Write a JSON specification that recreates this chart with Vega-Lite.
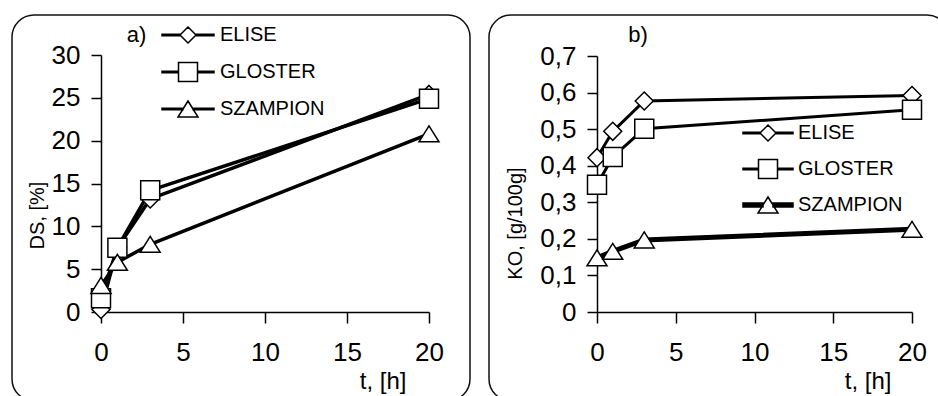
{
  "$schema": "https://vega.github.io/schema/vega-lite/v6.json",
  "padding": {"left": 11, "top": 14, "right": 0, "bottom": 0},
  "background": "white",
  "spacing": 17,
  "datasets": {
    "a": [
      {"t": 0, "series": "ELISE", "v": 0.3},
      {"t": 1, "series": "ELISE", "v": 7.5},
      {"t": 3, "series": "ELISE", "v": 13.2},
      {"t": 20, "series": "ELISE", "v": 25.4},
      {"t": 0, "series": "GLOSTER", "v": 1.6},
      {"t": 1, "series": "GLOSTER", "v": 7.5},
      {"t": 3, "series": "GLOSTER", "v": 14.2},
      {"t": 20, "series": "GLOSTER", "v": 24.9},
      {"t": 0, "series": "SZAMPION", "v": 3.1},
      {"t": 1, "series": "SZAMPION", "v": 5.8},
      {"t": 3, "series": "SZAMPION", "v": 7.9},
      {"t": 20, "series": "SZAMPION", "v": 20.8}
    ],
    "b": [
      {"t": 0, "series": "ELISE", "v": 0.422},
      {"t": 1, "series": "ELISE", "v": 0.494},
      {"t": 3, "series": "ELISE", "v": 0.577},
      {"t": 20, "series": "ELISE", "v": 0.592},
      {"t": 0, "series": "GLOSTER", "v": 0.348},
      {"t": 1, "series": "GLOSTER", "v": 0.424},
      {"t": 3, "series": "GLOSTER", "v": 0.501},
      {"t": 20, "series": "GLOSTER", "v": 0.553},
      {"t": 0, "series": "SZAMPION", "v": 0.148},
      {"t": 1, "series": "SZAMPION", "v": 0.166},
      {"t": 3, "series": "SZAMPION", "v": 0.197},
      {"t": 20, "series": "SZAMPION", "v": 0.226}
    ]
  },
  "hconcat": [
    {
      "width": 458,
      "height": 386,
      "data": {"name": "a"},
      "resolve": {"scale": {"shape": "independent"}, "legend": {"shape": "independent"}},
      "layer": [
        {"mark": {"type": "line", "color": "black", "strokeWidth": 3.5},
          "encoding": {
            "x": {"field": "t", "type": "quantitative", "scale": {"domain": [0, 20], "range": [89, 417]},
              "axis": {"values": [0, 5, 10, 15, 20], "offset": -89, "title": "t, [h]", "titleFontSize": 24, "titleX": 394, "titleY": 76, "titleAlign": "right", "titleBaseline": "alphabetic"}},
            "y": {"field": "v", "type": "quantitative", "scale": {"domain": [0, 30], "range": [297, 40]},
              "axis": {"values": [0, 5, 10, 15, 20, 25, 30], "offset": -89, "title": "DS, [%]", "titleFontSize": 20, "titleX": -64, "titleY": 200, "titleAngle": 270, "titleAlign": "center", "titleBaseline": "middle"}},
            "detail": {"field": "series"}}},
        {"mark": {"type": "point", "filled": true, "fill": "white", "stroke": "black", "strokeWidth": 1.5, "size": 400, "opacity": 1},
          "encoding": {
            "x": {"field": "t", "type": "quantitative"},
            "y": {"field": "v", "type": "quantitative"},
            "shape": {"field": "series", "type": "nominal", "legend": null,
              "scale": {"domain": ["ELISE", "GLOSTER", "SZAMPION"], "range": ["M0,-0.9L0.9,0L0,0.9L-0.9,0Z", "M-0.95,-0.95H0.95V0.95H-0.95Z", "M0,-0.8L1,0.8H-1Z"]}}
          }},
        {"transform": [{"filter": "false"}],
          "mark": {"type": "point", "filled": true, "fill": "white", "stroke": "black", "strokeWidth": 1.5, "size": 400, "opacity": 1},
          "encoding": {
            "shape": {"field": "series", "type": "nominal",
              "scale": {"domain": ["ELISE", "GLOSTER", "SZAMPION"], "range": [
                "M0,-0.8L0.8,0L0,0.8L-0.8,0Z M-2.6,-0.075H-0.8V0.075H-2.6Z M0.8,-0.075H2.6V0.075H0.8Z",
                "M-0.95,-0.95H0.95V0.95H-0.95Z M-2.6,-0.075H-0.95V0.075H-2.6Z M0.95,-0.075H2.6V0.075H0.95Z",
                "M0,-0.8L1,0.8H-1Z M-2.6,-0.075H-0.5V0.075H-2.6Z M0.5,-0.075H2.6V0.075H0.5Z"]},
              "legend": {"orient": "none", "legendX": 165, "legendY": 9, "title": null, "padding": 0, "symbolSize": 400, "symbolStrokeWidth": 1.5, "symbolOpacity": 1, "labelFontSize": 20, "labelFont": "Liberation Sans", "labelColor": "black", "labelOffset": 21, "rowPadding": 13,
                "encode": {"symbols": {"fill": {"value": "white"}, "stroke": {"value": "black"}, "strokeWidth": {"value": 1.5}}}}
            }
          }},
        {"data": {"values": [{"label": "a)"}]},
          "mark": {"type": "text", "fontSize": 22, "font": "Liberation Sans", "color": "black", "align": "center", "baseline": "middle"},
          "encoding": {
            "x": {"datum": 2.16, "type": "quantitative"},
            "y": {"datum": 32.3, "type": "quantitative"},
            "text": {"field": "label"}}}
      ]
    },
    {
      "width": 460,
      "height": 386,
      "data": {"name": "b"},
      "resolve": {"scale": {"shape": "independent"}, "legend": {"shape": "independent"}},
      "layer": [
        {"mark": {"type": "line", "color": "black"},
          "encoding": {
            "x": {"field": "t", "type": "quantitative", "scale": {"domain": [0, 20], "range": [108, 423]},
              "axis": {"values": [0, 5, 10, 15, 20], "offset": -89, "title": "t, [h]", "titleFontSize": 24, "titleX": 402, "titleY": 76, "titleAlign": "right", "titleBaseline": "alphabetic"}},
            "y": {"field": "v", "type": "quantitative", "scale": {"domain": [0, 0.7], "range": [297, 41]},
              "axis": {"values": [0, 0.1, 0.2, 0.3, 0.4, 0.5, 0.6, 0.7], "offset": -108, "title": "KO, [g/100g]", "titleFontSize": 20, "titleX": -82, "titleY": 208, "titleAngle": 270, "titleAlign": "center", "titleBaseline": "middle",
                "labelExpr": "datum.value == 0 ? '0' : replace(format(datum.value, '.1f'), '.', ',')"}},
            "detail": {"field": "series"},
            "strokeWidth": {"condition": {"test": "datum.series === 'SZAMPION'", "value": 5}, "value": 3}}},
        {"mark": {"type": "point", "filled": true, "fill": "white", "stroke": "black", "strokeWidth": 1.5, "size": 400, "opacity": 1},
          "encoding": {
            "x": {"field": "t", "type": "quantitative"},
            "y": {"field": "v", "type": "quantitative"},
            "shape": {"field": "series", "type": "nominal", "legend": null,
              "scale": {"domain": ["ELISE", "GLOSTER", "SZAMPION"], "range": ["M0,-0.9L0.9,0L0,0.9L-0.9,0Z", "M-0.95,-0.95H0.95V0.95H-0.95Z", "M0,-0.8L1,0.8H-1Z"]}}
          }},
        {"transform": [{"filter": "false"}],
          "mark": {"type": "point", "filled": true, "fill": "white", "stroke": "black", "strokeWidth": 1.5, "size": 400, "opacity": 1},
          "encoding": {
            "shape": {"field": "series", "type": "nominal",
              "scale": {"domain": ["ELISE", "GLOSTER", "SZAMPION"], "range": [
                "M0,-0.8L0.8,0L0,0.8L-0.8,0Z M-2.5,-0.075H-0.8V0.075H-2.5Z M0.8,-0.075H2.5V0.075H0.8Z",
                "M-0.95,-0.95H0.95V0.95H-0.95Z M-2.5,-0.075H-0.95V0.075H-2.5Z M0.95,-0.075H2.5V0.075H0.95Z",
                "M0,-0.8L1,0.8H-1Z M-2.5,-0.2H-0.5V-0.05H-2.5Z M-2.5,0.05H-0.5V0.2H-2.5Z M0.5,-0.2H2.5V-0.05H0.5Z M0.5,0.05H2.5V0.2H0.5Z"]},
              "legend": {"orient": "none", "legendX": 268, "legendY": 107, "title": null, "padding": 0, "symbolSize": 400, "symbolStrokeWidth": 1.5, "symbolOpacity": 1, "labelFontSize": 20, "labelFont": "Liberation Sans", "labelColor": "black", "labelOffset": 19, "rowPadding": 12,
                "encode": {"symbols": {"fill": {"value": "white"}, "stroke": {"value": "black"}, "strokeWidth": {"value": 1.5}}}}
            }
          }},
        {"data": {"values": [{"label": "b)"}]},
          "mark": {"type": "text", "fontSize": 22, "font": "Liberation Sans", "color": "black", "align": "center", "baseline": "middle"},
          "encoding": {
            "x": {"datum": 2.6, "type": "quantitative"},
            "y": {"datum": 0.757, "type": "quantitative"},
            "text": {"field": "label"}}}
      ]
    }
  ],
  "config": {
    "font": "Liberation Sans",
    "view": {"stroke": "#111", "strokeWidth": 1.5, "cornerRadius": 22},
    "axis": {
      "grid": false,
      "domainColor": "black", "domainWidth": 1.5,
      "tickColor": "black", "tickWidth": 1.5,
      "labelFont": "Liberation Sans", "labelFontSize": 26, "labelColor": "black",
      "titleFont": "Liberation Sans", "titleFontWeight": "normal", "titleColor": "black"
    },
    "axisX": {"tickSize": 11, "labelPadding": 16, "labelFlush": false, "labelOverlap": false},
    "axisY": {"tickSize": 10, "labelPadding": 11, "labelOverlap": false}
  }
}
